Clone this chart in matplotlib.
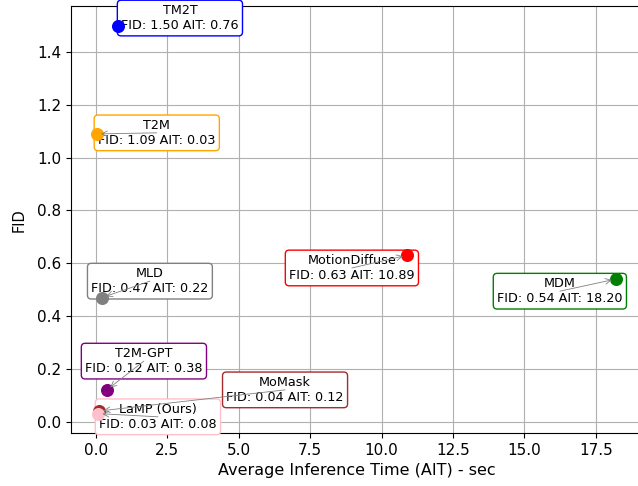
import matplotlib
matplotlib.use("Agg")
import matplotlib.pyplot as plt

models = ["TM2T", "T2M", "MLD", "MotionDiffuse", "MDM", "T2M-GPT", "MoMask", "LaMP (Ours)"]
ait = [0.76, 0.03, 0.22, 10.89, 18.20, 0.38, 0.12, 0.08]
fid = [1.50, 1.09, 0.47, 0.63, 0.54, 0.12, 0.04, 0.03]
colors = ["blue", "orange", "gray", "red", "green", "purple", "brown", "pink"]

# where the label boxes ended up (data coords)
label_x = [2.94, 2.13, 1.89, 8.96, 16.24, 1.68, 6.62, 2.17]
label_y = [1.529, 1.094, 0.532, 0.582, 0.494, 0.229, 0.120, 0.018]

fig = plt.figure(figsize=(6.38, 4.86), dpi=100)
ax = fig.add_axes([0.111, 0.109, 0.895, 0.878])

ax.grid(True)
ax.set_axisbelow(True)

for i in range(len(models)):
    ax.text(label_x[i], label_y[i],
            f"{models[i]}\nFID: {fid[i]:.2f} AIT: {ait[i]:.2f}",
            ha="center", va="center", fontsize=9.2, zorder=4,
            bbox=dict(boxstyle="round,pad=0.3", fc="white", ec=colors[i]))

for i in range(len(models)):
    ax.scatter(ait[i], fid[i], color=colors[i], s=70, zorder=5)

for i in range(len(models)):
    if models[i] != "TM2T":
        ax.annotate("", xy=(ait[i], fid[i]), xytext=(label_x[i], label_y[i]),
                    arrowprops=dict(arrowstyle="->", color="gray", lw=0.6,
                                    shrinkA=0, shrinkB=3),
                    zorder=6)

ax.tick_params(labelsize=11)
ax.set_xlabel("Average Inference Time (AIT) - sec", fontsize=11.5)
ax.set_ylabel("FID", fontsize=10.5, labelpad=7)

fig.savefig("out.png", dpi=100)
